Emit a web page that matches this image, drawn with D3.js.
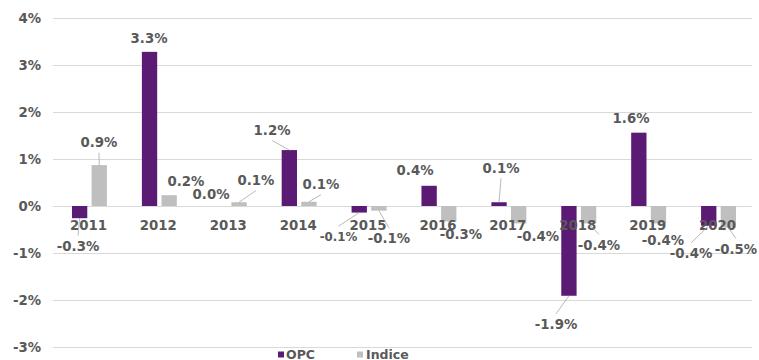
<!DOCTYPE html>
<html><head><meta charset="utf-8">
<script src="https://cdn.jsdelivr.net/npm/d3@7"></script>
<style>
body{margin:0;background:#fff}
text{font-family:"DejaVu Sans",Verdana,sans-serif;font-weight:bold;fill:#595959}
</style>
</head><body>
<svg id="chart" width="759" height="360"></svg>
<script>
// ---- data ----
const years = ["2011","2012","2013","2014","2015","2016","2017","2018","2019","2020"];
const opc = [-0.26, 3.28, 0.0, 1.19, -0.14, 0.43, 0.08, -1.91, 1.56, -0.42];
const indice = [0.87, 0.23, 0.08, 0.09, -0.10, -0.33, -0.37, -0.37, -0.37, -0.46];
const seriesNames = ["OPC", "Indice"];
const yTicks = [-3, -2, -1, 0, 1, 2, 3, 4];

// ---- layout / style ----
const colors = {OPC: "#5b1a73", Indice: "#bfbfbf"};
const plotLeft = 53, plotRight = 752;
// label placement relative to bar end: [dx, dy, leader, fontSize]
const labelLayout = {
  OPC: [[-1.6,27.8,1,13.3],[-0.5,-13.8,0,13.3],[-8.4,-11.7,0,13.3],[-17.3,-20.1,1,13.3],[-20.7,24.1,1,11.8],
        [-14.1,-15.1,0,13.3],[2,-34.5,1,13.3],[-12.9,28.5,1,13.3],[-7.8,-14.4,0,13.3],[-17.7,27.6,1,13.3]],
  Indice: [[-0.3,-22.8,1,13.3],[16.8,-13.5,0,13.3],[16.9,-22.2,1,13.3],[12,-17.5,1,13.3],[10.1,27.6,1,13.3],
           [12.2,12.8,0,13.3],[19.3,12.6,0,13.3],[10.4,21.6,1,13.3],[4.5,16.6,0,13.3],[7.6,21.4,1,13.3]]
};

const svg = d3.select("#chart");
const y = d3.scaleLinear().domain([-3, 4]).range([347, 18]);
const x0 = d3.scaleBand().domain(years).range([54.5, 753.5]).paddingInner(0.5).paddingOuter(0.25);
const x1 = d3.scaleBand().domain(seriesNames).range([0, x0.bandwidth()]).paddingInner(0.22);

const dataBySeries = {OPC: opc, Indice: indice};

// gridlines
const grid = svg.append("g").attr("transform", `translate(${plotLeft},0)`)
  .call(d3.axisRight(y).tickValues(yTicks).tickSize(plotRight - plotLeft).tickFormat(""));
grid.select(".domain").remove();
grid.selectAll("line").attr("stroke", "#d9d9d9").attr("stroke-width", 1);

// y axis labels
const yAxis = svg.append("g").attr("transform", "translate(41,0)")
  .call(d3.axisLeft(y).tickValues(yTicks).tickSize(0).tickPadding(0).tickFormat(d => d + "%"));
yAxis.select(".domain").remove();
yAxis.selectAll("text").attr("font-size", 13.3).attr("fill", "#595959")
  .style("font-family", '"DejaVu Sans",Verdana,sans-serif').style("font-weight", "bold");

// bars
const groups = svg.append("g").selectAll("g").data(years).join("g")
  .attr("transform", d => `translate(${x0(d)},0)`);
groups.selectAll("rect")
  .data((yr, i) => seriesNames.map(k => ({key: k, value: dataBySeries[k][i]})))
  .join("rect")
  .attr("x", d => x1(d.key))
  .attr("width", x1.bandwidth())
  .attr("y", d => Math.min(y(d.value), y(0)))
  .attr("height", d => Math.abs(y(d.value) - y(0)))
  .attr("fill", d => colors[d.key]);

// x axis (year labels)
const xAxis = svg.append("g").attr("transform", `translate(-1,${y(0)})`)
  .call(d3.axisBottom(x0).tickSize(0).tickPadding(14.6));
xAxis.select(".domain").remove();
xAxis.selectAll("text").attr("font-size", 13.3).attr("fill", "#595959")
  .style("font-family", '"DejaVu Sans",Verdana,sans-serif').style("font-weight", "bold");

// data labels + leader lines
const labelG = svg.append("g");
seriesNames.forEach(k => {
  years.forEach((yr, i) => {
    const v = dataBySeries[k][i];
    const [dx, dy, leader, fs] = labelLayout[k][i];
    const bx = x0(yr) + x1(k) + x1.bandwidth() / 2;
    const by = y(v);
    const lx = bx + dx, ly = by + dy;
    if (leader) {
      const ey = by < ly ? ly - 10.5 : ly + 10.5;
      labelG.append("line").attr("x1", bx).attr("y1", by).attr("x2", lx).attr("y2", ey)
        .attr("stroke", "#a6a6a6").attr("stroke-width", 0.8);
    }
    labelG.append("text").attr("x", lx).attr("y", ly + 0.36 * fs)
      .attr("text-anchor", "middle").attr("font-size", fs)
      .text(v.toFixed(1) + "%");
  });
});

// legend
const legend = svg.append("g");
const legendPos = [{x: 278, tx: 286}, {x: 357, tx: 366}];
seriesNames.forEach((k, i) => {
  legend.append("rect").attr("x", legendPos[i].x).attr("y", 351.5).attr("width", 6).attr("height", 6)
    .attr("fill", colors[k]);
  legend.append("text").attr("x", legendPos[i].tx).attr("y", 358.5).attr("font-size", 12.5).text(k);
});
</script>
</body></html>
